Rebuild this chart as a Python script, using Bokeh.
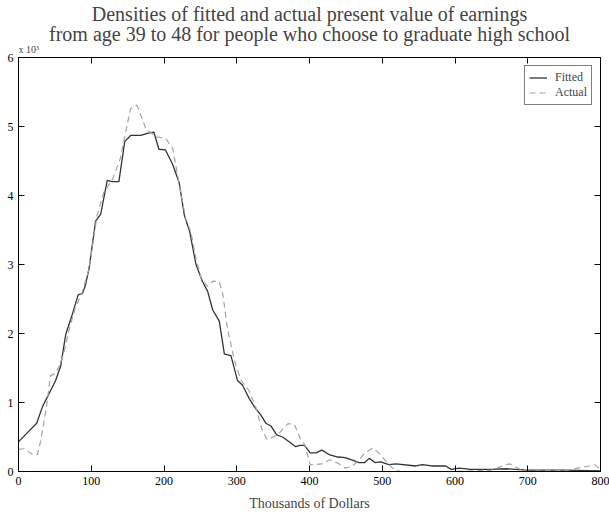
from bokeh.plotting import figure
from bokeh.models import LinearAxis, Range1d, FixedTicker, Legend, LegendItem, Title
from bokeh.embed import file_html
from bokeh.resources import INLINE

# Fitted density (x in thousands of dollars, y in units of 1e-3)
fitted_x = [0, 12, 25, 33, 44, 51, 58, 65, 74, 82, 88, 92, 97, 106, 113, 122, 129, 138,
            146, 154, 168, 177, 186, 193, 202, 212, 221, 228, 235, 244, 253, 260, 267,
            276, 283, 292, 301, 308, 317, 324, 333, 340, 347, 355, 363, 372, 381, 387,
            393, 401, 409, 417, 428, 439, 449, 460, 468, 476, 482, 490, 498, 509, 519,
            546, 555, 568, 587, 595, 606, 622, 649, 670, 700, 750, 800]
fitted_y = [0.43, 0.56, 0.70, 0.94, 1.17, 1.32, 1.53, 1.99, 2.28, 2.56, 2.58, 2.70, 2.94,
            3.63, 3.73, 4.22, 4.20, 4.20, 4.78, 4.87, 4.87, 4.90, 4.92, 4.67, 4.66, 4.45,
            4.18, 3.71, 3.49, 3.00, 2.75, 2.61, 2.34, 2.18, 1.70, 1.68, 1.32, 1.25, 1.06,
            0.94, 0.82, 0.70, 0.66, 0.53, 0.50, 0.43, 0.36, 0.38, 0.38, 0.27, 0.27, 0.31,
            0.24, 0.21, 0.20, 0.16, 0.13, 0.13, 0.19, 0.13, 0.14, 0.10, 0.11, 0.08, 0.10,
            0.08, 0.08, 0.03, 0.05, 0.03, 0.03, 0.04, 0.02, 0.02, 0.01]

# Actual density
actual_x = [0, 8, 20, 26, 31, 39, 44, 51, 56, 62, 69, 78, 88, 97, 108, 117, 129, 140, 154,
            163, 175, 189, 202, 212, 216, 223, 230, 237, 244, 251, 260, 267, 276, 281,
            287, 297, 306, 317, 326, 335, 342, 356, 370, 379, 388, 393, 401, 406, 417,
            428, 439, 449, 457, 466, 476, 487, 495, 506, 514, 525, 600, 650, 670, 676,
            690, 750, 784, 792, 800]
actual_y = [0.32, 0.33, 0.24, 0.24, 0.47, 0.98, 1.39, 1.42, 1.53, 1.70, 2.03, 2.37, 2.61,
            2.94, 3.71, 4.04, 4.23, 4.54, 5.26, 5.31, 4.97, 4.85, 4.83, 4.68, 4.45, 4.04,
            3.66, 3.47, 3.08, 2.80, 2.68, 2.76, 2.75, 2.56, 2.08, 1.60, 1.32, 1.17, 0.94,
            0.60, 0.46, 0.53, 0.69, 0.69, 0.46, 0.40, 0.10, 0.10, 0.11, 0.17, 0.12, 0.05,
            0.07, 0.14, 0.27, 0.34, 0.27, 0.14, 0.05, 0.00, 0.00, 0.02, 0.10, 0.11, 0.03,
            0.01, 0.08, 0.10, 0.03]

x_ticks = [0, 100, 200, 300, 400, 500, 600, 700, 800]
y_ticks = [0, 1, 2, 3, 4, 5, 6]

title_line1 = "Densities of fitted and actual present value of earnings"
title_line2 = "from age 39 to 48 for people who choose to graduate high school"
scale_note = "x 10\u00b3"
x_label = "Thousands of Dollars"
series_names = ["Fitted", "Actual"]

FONT = "Liberation Serif"

p = figure(width=609, height=517, output_backend="svg", toolbar_location=None,
           title=None, x_range=Range1d(0, 800), y_range=Range1d(0, 6),
           min_border_left=18, min_border_right=9, min_border_top=54,
           min_border_bottom=46)

p.xgrid.visible = False
p.ygrid.visible = False
p.outline_line_color = "black"
p.outline_line_alpha = 1.0
p.outline_line_width = 1

def style_axis(ax, ticks, show_labels):
    ax.ticker = FixedTicker(ticks=ticks)
    ax.major_tick_in = 6
    ax.major_tick_out = 0
    ax.minor_tick_in = 0
    ax.minor_tick_out = 0
    ax.axis_line_color = "black"
    ax.major_tick_line_color = "black"
    ax.major_label_text_font = FONT
    if show_labels:
        ax.major_label_text_color = "black"
        ax.major_label_text_font_size = "12px"
        ax.major_label_standoff = 5
    else:
        ax.major_label_text_color = None
        ax.major_label_text_font_size = "1px"
        ax.major_label_standoff = 0

style_axis(p.xaxis[0], x_ticks, True)
style_axis(p.yaxis[0], y_ticks, True)
p.xaxis[0].axis_label = x_label
p.xaxis[0].axis_label_text_font = FONT
p.xaxis[0].axis_label_text_font_size = "14px"
p.xaxis[0].axis_label_text_font_style = "normal"
p.xaxis[0].axis_label_standoff = 8

top_axis = LinearAxis()
style_axis(top_axis, x_ticks, False)
p.add_layout(top_axis, "above")
right_axis = LinearAxis()
style_axis(right_axis, y_ticks, False)
p.add_layout(right_axis, "right")

# stacked titles: nearest the frame first
t_note = Title(text=scale_note, align="left", text_font=FONT, text_font_size="10px",
               text_font_style="normal", standoff=5)
t_line2 = Title(text=title_line2, align="center", text_font=FONT, text_font_size="20px",
                text_font_style="normal", standoff=-10)
t_line1 = Title(text=title_line1, align="center", text_font=FONT, text_font_size="20px",
                text_font_style="normal", standoff=1)
p.add_layout(t_note, "above")
p.add_layout(t_line2, "above")
p.add_layout(t_line1, "above")

r_fit = p.line(fitted_x, fitted_y, line_color="#333333", line_width=1.3)
r_act = p.line(actual_x, actual_y, line_color="#a4a4a4", line_width=1.2, line_dash="6 4")

legend = Legend(items=[LegendItem(label=series_names[0], renderers=[r_fit]),
                       LegendItem(label=series_names[1], renderers=[r_act])],
                location="top_right")
legend.margin = 8
legend.padding = 4
legend.spacing = 0
legend.label_text_font = FONT
legend.label_text_font_size = "12px"
legend.label_height = 13
legend.glyph_height = 13
legend.glyph_width = 18
legend.label_standoff = 8
legend.border_line_color = "black"
legend.border_line_width = 1
legend.background_fill_alpha = 1
p.add_layout(legend, "center")

open("out.html", "w").write(file_html(p, INLINE))
